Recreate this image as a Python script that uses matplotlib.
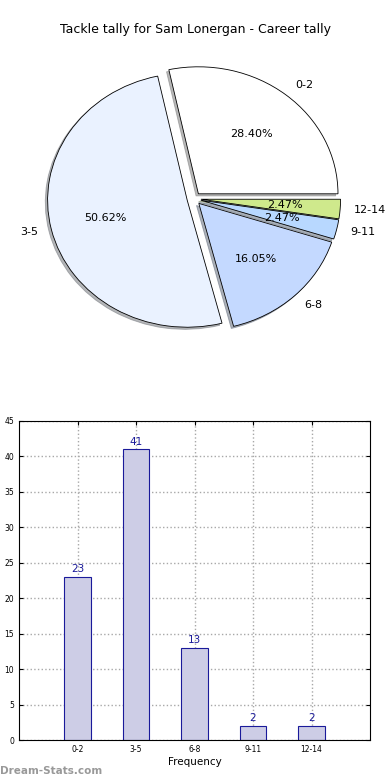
import matplotlib
matplotlib.use('Agg')
import matplotlib.pyplot as plt
import numpy as np

# tackle counts per range
categories = ['0-2', '3-5', '6-8', '9-11', '12-14']
counts = [23, 41, 13, 2, 2]
pie_colors = ['#ffffff', '#eaf2ff', '#c4d9ff', '#b8d8ff', '#cfe98c']
title = 'Tackle tally for Sam Lonergan - Career tally'

fig = plt.figure(figsize=(3.9, 7.8), dpi=100)

# pie chart (stretched, not round, like the original)
ax1 = fig.add_axes([19.5 / 390, 1 - 357.5 / 780, 349 / 390, 317.5 / 780])
wedges, texts, autotexts = ax1.pie(counts, labels=categories, colors=pie_colors,
                                   explode=[0.05] * len(counts),
                                   shadow={'ox': -0.012, 'oy': -0.012, 'shade': 0.55},
                                   autopct='%.2f%%', startangle=0,
                                   wedgeprops={'edgecolor': 'black', 'linewidth': 0.6},
                                   textprops={'fontsize': 8})
ax1.set_aspect('auto')
ax1.set_xlim(-1.25, 1.25)
ax1.set_ylim(-1.25, 1.25)
fig.text(0.5, 1 - 30 / 780, title, ha='center', va='center', fontsize=9)

# bar chart
ax2 = fig.add_axes([19 / 390, 1 - 740 / 780, 351 / 390, 319 / 780])
x = np.arange(len(categories))
bars = ax2.bar(x, counts, width=0.45, color='#cdcde6', edgecolor='#1a1a9a',
               linewidth=0.8, zorder=2)
for xi, c in zip(x, counts):
    ax2.text(xi, c + 0.4, str(c), ha='center', va='bottom', fontsize=7.5,
             color='#1a1a9a')
ax2.set_xlim(-1, 5)
ax2.set_ylim(0, 45)
ax2.set_yticks(np.arange(0, 46, 5))
ax2.set_xticks(x)
ax2.set_xticklabels(categories)
ax2.tick_params(labelsize=5.5, direction='in', top=True, right=True, length=3)
ax2.grid(True, linestyle=':', color='#a8a8a8', linewidth=1, zorder=0)
ax2.set_axisbelow(True)
ax2.set_xlabel('Frequency', fontsize=7.5, labelpad=2)

fig.text(0.0, 1 - 771 / 780, 'Dream-Stats.com', ha='left', va='center',
         fontsize=7.5, color='#999999', fontweight='bold')

plt.savefig('out.png', dpi=100)
